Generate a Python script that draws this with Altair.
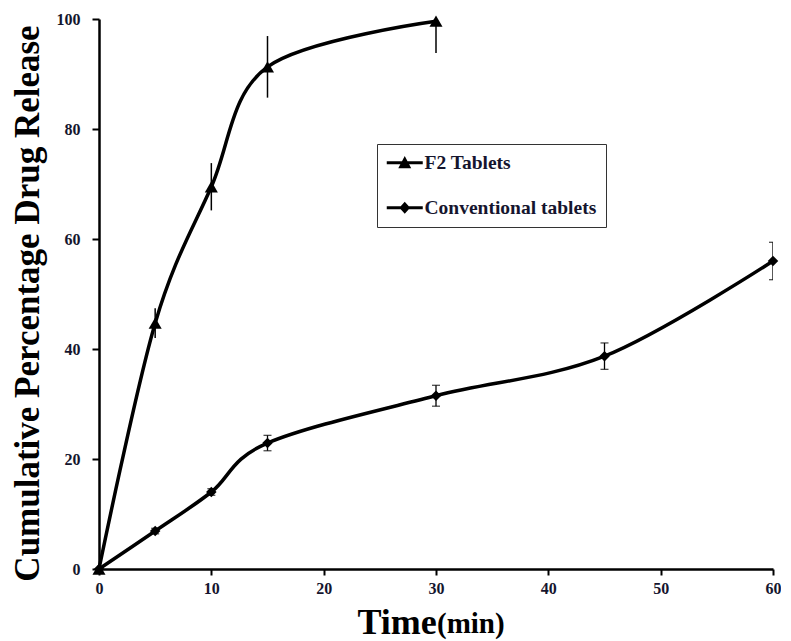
import altair as alt
import pandas as pd

# ---- data ----
series_order = ["F2 Tablets", "Conventional tablets"]

time_f2 = [0, 5, 10, 15, 30]
f2_mean = [0, 44.7, 69.5, 91.3, 99.6]
f2_err = [0, 2.7, 4.3, 5.6, 5.8]

time_conv = [0, 5, 10, 15, 30, 45, 60]
conv_mean = [0, 6.9, 14.0, 22.9, 31.5, 38.7, 56.0]
conv_err = [0, 0.5, 0.6, 1.4, 1.9, 2.4, 3.4]

x_ticks = [0, 10, 20, 30, 40, 50, 60]
y_ticks = [0, 20, 40, 60, 80, 100]

rows = []
for t, m, e in zip(time_f2, f2_mean, f2_err):
    rows.append({"series": series_order[0], "t": t, "mean": m, "lo": m - e, "hi": m + e})
for t, m, e in zip(time_conv, conv_mean, conv_err):
    rows.append({"series": series_order[1], "t": t, "mean": m, "lo": m - e, "hi": m + e})
df = pd.DataFrame(rows)

FONT = "Liberation Serif"
INK = "#15152e"

x_axis = alt.Axis(
    values=x_ticks, title="Time", titleFont=FONT, titleFontSize=36, titleFontWeight="bold",
    titleColor="black", titleX=258, titleY=64, titleAlign="left", titleBaseline="alphabetic",
    labelFont=FONT, labelFontSize=16, labelFontWeight="bold", labelColor=INK, labelPadding=5,
    tickSize=6, tickWidth=2, tickColor="black", domainColor="black", domainWidth=2.5,
    grid=False, labelFlush=False,
)
y_axis = alt.Axis(
    values=y_ticks, title="Cumulative Percentage Drug Release", titleFont=FONT, titleFontSize=35,
    titleFontWeight="bold", titleColor="black", titleX=-61, titleY=284, titleAlign="center",
    titleBaseline="alphabetic",
    labelFont=FONT, labelFontSize=16, labelFontWeight="bold", labelColor=INK, labelPadding=12,
    tickSize=7, tickWidth=2, tickColor="black", domainColor="black", domainWidth=2.5,
    grid=False, labelFlush=False,
)

X = alt.X("t:Q", scale=alt.Scale(domain=[0, 60], nice=False, zero=False), axis=x_axis)
Y = alt.Y("mean:Q", scale=alt.Scale(domain=[0, 100], nice=False), axis=y_axis)

base = alt.Chart(df)

err_f2 = base.transform_filter(alt.datum.series == series_order[0]).mark_rule(
    color="black", strokeWidth=1.5, clip=True
).encode(x=X, y=alt.Y("lo:Q"), y2="hi:Q")

err_conv = base.transform_filter(alt.datum.series == series_order[1]).mark_rule(
    color="black", strokeWidth=1.3, clip=True
).encode(x=X, y=alt.Y("lo:Q"), y2="hi:Q")

cap_lo = base.transform_filter(alt.datum.series == series_order[1]).mark_tick(
    color="black", orient="horizontal", size=8, thickness=1.3, clip=True
).encode(x=X, y=alt.Y("lo:Q"))
cap_hi = base.transform_filter(alt.datum.series == series_order[1]).mark_tick(
    color="black", orient="horizontal", size=8, thickness=1.3, clip=True
).encode(x=X, y=alt.Y("hi:Q"))

lines = base.mark_line(color="black", strokeWidth=3.5, interpolate="cardinal").encode(
    x=X, y=Y, detail="series:N"
)

points = base.mark_point(filled=True, color="black", opacity=1).encode(
    x=X, y=Y,
    shape=alt.Shape("series:N", scale=alt.Scale(domain=series_order, range=["triangle-up", "diamond"]), legend=None),
    size=alt.Size("series:N", scale=alt.Scale(domain=series_order, range=[170, 110]), legend=None),
)

tri_path = "M-1,-0.17L3,-0.17L3,0.17L-1,0.17Z M1,-0.75L1.72,0.6L0.28,0.6Z"
dia_path = "M-1,-0.17L3,-0.17L3,0.17L-1,0.17Z M1,-0.67L1.6,0L1,0.67L0.4,0Z"

legend_layer = base.transform_filter("datum.t < 0").mark_point(
    filled=True, color="black", opacity=1
).encode(
    x=X, y=Y,
    shape=alt.Shape(
        "series:N",
        scale=alt.Scale(domain=series_order, range=[tri_path, dia_path]),
        legend=alt.Legend(
            title=None, orient="none", legendX=278, legendY=125,
            labelFont=FONT, labelFontSize=19.5, labelFontWeight="bold", labelColor=INK,
            labelLimit=400,
            symbolSize=324, symbolFillColor="black", symbolStrokeColor="black",
            symbolStrokeWidth=0, symbolOpacity=1, labelOffset=19,
            padding=9, rowPadding=24, strokeColor="#333333", fillColor="white",
        ),
    ),
)

min_text = alt.Chart(pd.DataFrame({"s": ["(min)"]})).mark_text(
    font=FONT, fontSize=29, fontWeight="bold", color="black", align="left", baseline="alphabetic"
).encode(x=alt.value(338), y=alt.value(614), text="s:N")

chart = alt.layer(
    err_f2, err_conv, cap_lo, cap_hi, lines, points, legend_layer, min_text
).resolve_scale(shape="independent", size="independent").properties(
    width=674, height=550,
    padding={"left": 91, "top": 11, "right": 8, "bottom": 72},
    autosize=alt.AutoSizeParams(type="none"),
).configure(
    background="white", font=FONT
).configure_view(stroke=None).configure_axis(
    labelFont=FONT, titleFont=FONT
).configure_legend(labelFont=FONT)

chart.save("out.html", embed_options={"renderer": "svg", "actions": False})
